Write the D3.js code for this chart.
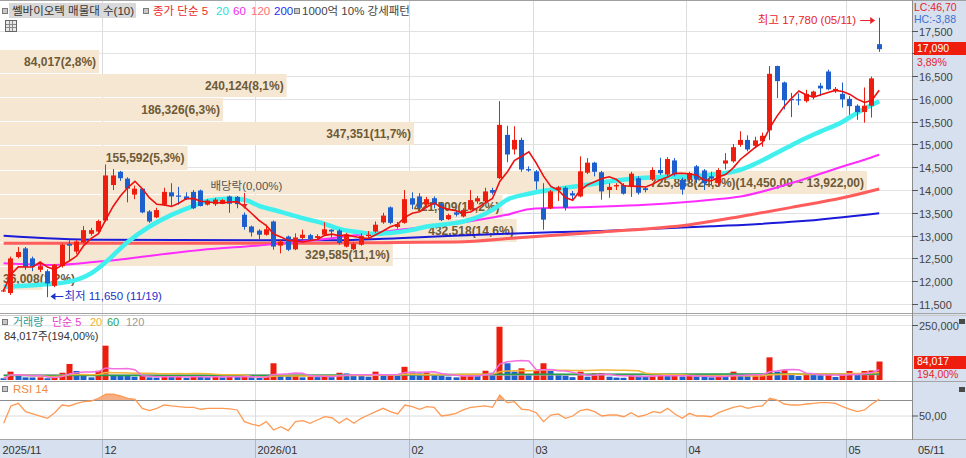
<!DOCTYPE html>
<html>
<head>
<meta charset="utf-8">
<script src="https://cdn.jsdelivr.net/npm/d3@7/dist/d3.min.js"></script>
<style>
body { margin: 0; background: #fff; }
svg { display: block; }
</style>
</head>
<body>
<script>
// trading days on the chart (2025/11/11 .. 2026/05/11)
var dates = [
  "11/11","11/12","11/13","11/14","11/17","11/18","11/19","11/20","11/21","11/24","11/25","11/26","11/27","11/28",
  "12/01","12/02","12/03","12/04","12/05","12/08","12/09","12/10","12/11","12/12","12/15","12/16","12/17","12/18","12/19","12/22","12/23","12/24","12/26","12/29","12/30",
  "01/02","01/05","01/06","01/07","01/08","01/09","01/12","01/13","01/14","01/15","01/16","01/19","01/20","01/21","01/22","01/23","01/26","01/27","01/28","01/29","01/30",
  "02/02","02/03","02/04","02/05","02/06","02/09","02/10","02/11","02/12","02/13","02/19","02/20","02/23","02/24","02/25","02/26","02/27",
  "03/03","03/04","03/05","03/06","03/09","03/10","03/11","03/12","03/13","03/16","03/17","03/18","03/19","03/20","03/23","03/24","03/25","03/26","03/27","03/30","03/31",
  "04/01","04/02","04/03","04/06","04/07","04/08","04/09","04/10","04/13","04/14","04/15","04/16","04/17","04/20","04/21","04/22","04/23","04/24","04/27","04/28","04/29","04/30",
  "05/04","05/06","05/07","05/08","05/11"
];
var monthLabels = ["2025/11", "12", "2026/01", "02", "03", "04", "05"];
var monthFirstDay = ["11/11", "12/01", "01/02", "02/02", "03/03", "04/01", "05/04"];

var openP = [
  11780,11740,12530,12720,12500,12250,12220,11900,12330,12820,
  12650,12850,13040,13090,13330,14110,14400,14250,13900,14030,
  13530,13400,13680,13950,13880,13860,13960,13990,13680,13690,
  13700,13860,13850,13460,13200,13110,13020,13310,12780,12980,
  12700,12950,13010,12950,13020,13130,13110,12760,12700,12800,
  12990,13090,13290,13620,13190,13280,13820,13860,13680,13820,
  13710,13360,13510,13420,13570,13750,13750,14000,14260,15210,
  14890,15100,14460,14410,13600,13600,14000,14050,13930,13860,
  14380,14600,14390,14000,14080,14110,14080,14260,14040,14230,
  14440,14340,14650,14220,14230,14520,14430,14300,14150,14580,
  14630,14990,15100,14970,15070,15310,16720,16360,16000,15990,
  15950,16050,16290,16600,16170,16110,16000,15850,15710,15850,
  17200
];
var highP = [
  11830,12540,12750,12750,12540,12380,12260,12380,12820,12900,
  12900,13210,13170,13350,14560,14460,14420,14280,14100,14040,
  13560,13610,14050,14150,14070,13950,14000,14010,13800,13830,
  13800,13880,13870,13510,13220,13140,13240,13330,12900,13000,
  13050,13130,13040,13030,13290,13140,13140,13060,12850,13050,
  13100,13310,13500,13640,13300,14000,13950,13930,13850,13860,
  13720,13480,13560,13600,14000,13870,14050,14050,15950,15410,
  15400,15150,14520,14440,14150,14000,14090,14080,13980,14740,
  14700,14620,14420,14150,14150,14150,14400,14300,14070,14500,
  14710,14720,14700,14270,14400,14550,14460,14400,14480,14810,
  15010,15290,15200,15170,15260,16720,16730,16380,16130,16120,
  16200,16180,16350,16640,16260,16360,16060,15880,16250,16490,
  17780
];
var lowP = [
  11760,11700,12500,12250,12220,12200,11650,11870,12300,12450,
  12600,12830,13000,13050,13300,14000,14200,13730,13800,13490,
  13280,13380,13650,13650,13680,13780,13580,13640,13660,13650,
  13690,13500,13600,13130,12980,12900,13000,12690,12610,12660,
  12680,12920,12900,12900,13000,12960,12800,12740,12680,12780,
  12950,13060,13260,13250,13150,13260,13580,13530,13640,13600,
  13320,13340,13420,13400,13550,13700,13720,13900,14240,14610,
  14780,14400,14400,14010,13130,13580,13760,13550,13800,13840,
  14350,14300,13790,13830,14000,13900,13850,13900,13950,14200,
  14330,14300,14300,13900,14150,14150,14000,14100,14100,14450,
  14600,14950,14850,14920,14950,15100,16020,15770,15600,15860,
  15920,15990,16060,16190,16130,15810,15650,15540,15480,15590,
  17030
];
var closeP = [
  11800,12500,12640,12310,12320,12330,11950,12360,12800,12780,
  12870,13120,13120,13320,14320,14320,14260,14030,14030,13510,
  13310,13560,13960,13860,13860,13800,13600,13650,13770,13790,
  13780,13700,13690,13190,13070,13020,13140,12760,12870,12690,
  12960,13020,12920,12990,13140,13090,12840,13020,12820,12990,
  13020,13240,13440,13280,13250,13800,13680,13610,13800,13680,
  13340,13450,13460,13560,13780,13820,13970,13940,15430,14780,
  15100,14450,14430,14190,13350,13970,14060,13610,13880,14410,
  14600,14400,13970,14070,14110,13920,14360,13940,14000,14440,
  14370,14680,14340,14010,14370,14230,14150,14250,14440,14650,
  14940,15100,14890,15090,15190,16550,16390,15970,15970,15980,
  16110,16160,16230,16210,16220,15990,15840,15710,15850,16450,
  17090
];
var volume = [
  8000,38000,27000,12000,11500,12000,8000,12000,33000,73000,
  41000,24000,12000,42000,156000,23000,22000,18000,15000,18000,
  12000,11000,19000,14000,16000,10000,17000,15000,13000,17000,
  12000,19000,14000,16000,12000,9000,14000,76000,22000,21000,
  24000,12000,15000,13000,19000,14000,33000,30000,22000,18000,
  15000,38000,24000,26000,20000,60000,38000,30000,34000,26000,
  20000,15000,12000,18000,26000,20000,42000,33000,242000,76000,
  38000,53000,23000,45000,76000,41000,23000,20000,13000,38000,
  15000,30000,32000,15000,11000,10000,22000,20000,14000,20000,
  21000,20000,21000,16000,19000,17000,15000,12000,18000,17000,
  38000,20000,19000,23000,24000,103000,38000,44000,30000,18000,
  26000,24000,22000,25000,14000,24000,41000,23000,41000,43307,
  84017
];
var rsi14 = [
  40.3,62.4,65.8,55.1,52.2,49.6,46.7,53.8,63.6,62.4,
  65.8,67.8,68.7,72.2,77.3,77.3,75.1,72.2,70.9,59.4,
  56.4,59.4,63.6,62.4,61.5,60.7,60.7,58.2,59.4,59.4,
  59.4,58.8,57.3,42.4,39.4,36.9,42.4,31.8,36.0,30.9,
  42.4,43.6,40.3,44.5,48.7,47.4,40.3,46.7,40.3,46.7,
  50.9,55.1,59.4,55.1,52.2,63.6,61.5,58.2,61.5,60.7,
  49.6,50.9,53.0,57.3,60.7,61.5,62.4,60.7,76.4,66.6,
  67.8,58.2,57.3,53.8,42.4,50.9,52.2,46.7,49.6,56.4,
  58.2,55.1,49.6,50.9,50.9,48.7,53.8,48.7,50.9,55.1,
  53.8,59.4,52.2,46.7,53.0,49.6,49.6,48.7,53.8,57.3,
  60.7,62.4,59.4,61.5,62.4,72.2,70.0,64.9,63.6,63.6,
  64.9,65.8,66.6,66.6,65.8,61.5,58.2,55.1,57.3,64.9,
  70.9
];

// longer moving averages: [day index, price]
var ma20Points = [[0,11880],[5,11920],[9,11990],[12,12175],[14,12420],[17,12860],[20,13200],[23,13456],[26,13650],[28,13764],[31,13808],[33,13786],[35,13654],[38,13522],[41,13383],[44,13260],[46,13148],[49,13067],[51,13038],[53,13060],[56,13126],[58,13199],[61,13258],[63,13310],[67,13566],[69,13786],[72,13918],[75,14005],[77,14049],[80,14115],[83,14188],[86,14247],[88,14270],[91,14290],[94,14298],[97,14335],[101,14445],[103,14577],[106,14819],[109,15067],[112,15287],[115,15500],[117,15698],[120,15950]];
var ma60Points = [[0,12394],[7,12357],[13,12430],[27,12687],[36,12797],[45,12944],[54,13126],[61,13250],[67,13400],[69,13456],[72,13581],[79,13625],[88,13676],[97,13786],[101,13858],[108,14153],[115,14518],[118,14665],[120,14775]];
var ma120Points = [[0,12830],[41,12830],[54,12850],[62,12860],[71,12960],[82,13080],[94,13240],[101,13420],[108,13620],[115,13830],[120,14025]];
var ma200Points = [[0,12995],[13,12907],[45,12896],[54,12944],[68,13038],[82,13104],[97,13203],[109,13313],[120,13493]];
var volMa60Points = [[0,20000],[40,21000],[70,26000],[120,27000]];
var volMa120Points = [[0,23000],[60,23000],[120,25000]];

// volume profile (매물대), 10 bands
var profileHigh = [17090,16562,16034,15506,14978,14450,13922,13394,12866,12338];
var profileLow  = [16562,16034,15506,14978,14450,13922,13394,12866,12338,11810];
var profileVol  = [84017,240124,186326,347351,155592,725888,421509,432518,329585,36008];
var profilePct  = [2.8,8.1,6.3,11.7,5.3,24.5,14.2,14.6,11.1,1.2];

var priceTicks = d3.range(11500, 17501, 500);

function main(){
    var W = 966, H = 458, plotRight = 912;
    var baseFont = "'Liberation Sans','Noto Sans CJK KR',sans-serif";
    var RED = "#ee1d0d", BLUE = "#1d5fcc";

    var svg = d3.select("body").append("svg")
        .attr("width", W)
        .attr("height", H)
        .style("font-family", baseFont)
        .style("font-size", "11px");

    var n = dates.length;
    var last = n - 1;
    var x = d3.scaleBand().domain(d3.range(n + 4)).range([0, plotRight])
        .paddingInner(0.3).paddingOuter(0.15);
    var cx = function(i){ return x(i) + x.bandwidth() / 2; };
    var bx = function(i){ return Math.round(cx(i) - 2.5); };
    var y = d3.scaleLinear().domain([11500, 17500]).range([304, 30.5]);
    var yVol = d3.scaleLinear().domain([0, 250000]).range([380, 325]);
    var yRsi = d3.scaleLinear().domain([50, 70]).range([415.7, 400]);
    var wProfile = d3.scaleLinear().domain([0, 24.5]).range([0, 867]);
    var fmt = d3.format(",");
    var comma = function(v, d){ return v.toFixed(d).replace(".", ","); };

    var days = d3.range(n);
    var candleColor = function(i){ return closeP[i] >= openP[i] ? RED : BLUE; };

    // backgrounds
    svg.append("rect").attr("x", 0).attr("y", 0).attr("width", W).attr("height", H).attr("fill", "#fff");
    svg.append("rect").attr("x", plotRight).attr("y", 0).attr("width", W - plotRight).attr("height", H).attr("fill", "#d7e0ee");
    svg.append("rect").attr("x", 0).attr("y", 440).attr("width", W).attr("height", 18).attr("fill", "#d7e0ee");

    // price grid
    svg.append("g").selectAll("line").data(priceTicks).enter().append("line")
        .attr("x1", 0).attr("x2", plotRight)
        .attr("y1", d => Math.round(y(d)) + 0.5).attr("y2", d => Math.round(y(d)) + 0.5)
        .attr("stroke", "#e2e2e2");

    // month separators
    var monthIdx = monthFirstDay.map(d => dates.indexOf(d));
    var monthX = monthIdx.map(i => Math.round(cx(i) - x.step() / 2) + 0.5);
    svg.append("g").selectAll("line").data(monthX.slice(1)).enter().append("line")
        .attr("x1", d => d).attr("x2", d => d).attr("y1", 0).attr("y2", 440)
        .attr("stroke", "#dcdcdc");
    svg.append("g").selectAll("line").data(monthX.slice(1)).enter().append("line")
        .attr("x1", d => d).attr("x2", d => d).attr("y1", 440).attr("y2", H)
        .attr("stroke", "#aeb8c8");

    // volume profile bars
    var prof = svg.append("g");
    prof.selectAll("rect").data(d3.range(profileVol.length)).enter().append("rect")
        .attr("x", 0)
        .attr("y", k => Math.round(y(profileHigh[k])) + 1)
        .attr("width", k => wProfile(profilePct[k]))
        .attr("height", k => Math.round(y(profileLow[k])) - Math.round(y(profileHigh[k])) - 1)
        .attr("fill", "#f6e7d3");
    prof.selectAll("text").data(d3.range(profileVol.length)).enter().append("text")
        .attr("x", k => k == 9 ? 3 : wProfile(profilePct[k]) - 3)
        .attr("y", k => (y(profileHigh[k]) + y(profileLow[k])) / 2 + 1)
        .attr("text-anchor", k => k == 9 ? "start" : "end")
        .attr("dominant-baseline", "central")
        .style("font-size", "12px")
        .style("font-weight", "bold")
        .attr("fill", "#6d5a36")
        .text(function(k){
            var s = fmt(profileVol[k]) + "(" + comma(profilePct[k], 1) + "%)";
            if (k == 5) s += "(" + comma(profileHigh[k], 2).replace(/^(\d+)(\d{3})/, "$1,$2") +
                " ~ " + comma(profileLow[k], 2).replace(/^(\d+)(\d{3})/, "$1,$2") + ")";
            return s;
        });

    // long moving averages
    var maLine = d3.line().x(d => cx(d[0])).y(d => y(d[1])).curve(d3.curveMonotoneX);
    svg.append("path").attr("d", maLine(ma200Points)).attr("fill", "none").attr("stroke", "#1a1ad8").attr("stroke-width", 2);
    svg.append("path").attr("d", maLine(ma120Points)).attr("fill", "none").attr("stroke", "#ff5c5c").attr("stroke-width", 3);
    svg.append("path").attr("d", maLine(ma60Points)).attr("fill", "none").attr("stroke", "#ff2cff").attr("stroke-width", 2);
    svg.append("path").attr("d", maLine(ma20Points)).attr("fill", "none").attr("stroke", "#3ff0ee").attr("stroke-width", 4.5);

    // candles
    var cg = svg.append("g");
    cg.selectAll("line").data(days).enter().append("line")
        .attr("x1", i => bx(i) + 2.5).attr("x2", i => bx(i) + 2.5)
        .attr("y1", i => y(highP[i])).attr("y2", i => y(lowP[i]))
        .attr("stroke", candleColor).attr("stroke-width", 1);
    cg.selectAll("rect").data(days).enter().append("rect")
        .attr("x", bx)
        .attr("y", i => y(Math.max(openP[i], closeP[i])))
        .attr("width", 5)
        .attr("height", i => Math.max(1.2, Math.abs(y(openP[i]) - y(closeP[i]))))
        .attr("fill", candleColor);

    // 5 day average
    var ma5 = days.map(function(i){
        var w = closeP.slice(Math.max(0, i - 4), i + 1);
        return [i, d3.mean(w)];
    });
    svg.append("path").attr("d", d3.line().x(d => cx(d[0])).y(d => y(d[1]))(ma5))
        .attr("fill", "none").attr("stroke", "#ee1010").attr("stroke-width", 1.6);

    // annotations
    var iHigh = d3.maxIndex(highP), iLow = d3.minIndex(lowP);
    var ann = svg.append("g").style("font-size", "11.5px");
    ann.append("text").attr("x", cx(iHigh) - 23).attr("y", 20).attr("text-anchor", "end")
        .attr("dominant-baseline", "central").attr("fill", "#e8242a")
        .text("최고 " + fmt(highP[iHigh]) + " (" + dates[iHigh] + ")");
    ann.append("line").attr("x1", cx(iHigh) - 19).attr("x2", cx(iHigh) - 7).attr("y1", 20.5).attr("y2", 20.5)
        .attr("stroke", "#e8242a");
    ann.append("path").attr("d", "M" + (cx(iHigh) - 4) + ",20.5 l-5,-3.5 l0,7 z").attr("fill", "#e8242a");
    ann.append("line").attr("x1", cx(iLow) + 6).attr("x2", cx(iLow) + 16).attr("y1", 296.5).attr("y2", 296.5)
        .attr("stroke", "#1a32c8");
    ann.append("path").attr("d", "M" + (cx(iLow) + 3) + ",296.5 l5,-3.5 l0,7 z").attr("fill", "#1a32c8");
    ann.append("text").attr("x", cx(iLow) + 17).attr("y", 296).attr("dominant-baseline", "central")
        .attr("fill", "#1a32c8")
        .text("최저 " + fmt(lowP[iLow]) + " (" + dates[iLow] + ")");

    // ex-dividend marker
    var iDiv = dates.indexOf("12/29");
    ann.append("text").attr("x", cx(iDiv) - 34).attr("y", 186).attr("dominant-baseline", "central")
        .attr("fill", "#555").text("배당락(0,00%)");
    ann.append("line").attr("x1", bx(iDiv) + 2.5).attr("x2", bx(iDiv) + 2.5).attr("y1", 193).attr("y2", 205)
        .attr("stroke", "#e8242a");
    ann.append("path").attr("d", "M" + (bx(iDiv) - 0.5) + ",204 l6,0 l-3,5 z").attr("fill", "#e8242a");

    // ---- volume panel ----
    var volColor = function(i){ return i > 0 && volume[i] > volume[i - 1] ? RED : BLUE; };
    svg.append("line").attr("x1", 0).attr("x2", plotRight).attr("y1", 325.5).attr("y2", 325.5).attr("stroke", "#e6e6e6");
    svg.append("g").selectAll("rect").data(days).enter().append("rect")
        .attr("x", i => bx(i) - 0.5)
        .attr("y", i => yVol(volume[i]))
        .attr("width", 6)
        .attr("height", i => 380 - yVol(volume[i]))
        .attr("fill", volColor);
    var volAvg = function(len){
        return days.map(function(i){ return [i, d3.mean(volume.slice(Math.max(0, i - len + 1), i + 1))]; });
    };
    var vLine = d3.line().x(d => cx(d[0])).y(d => yVol(d[1]));
    var vCurve = d3.line().x(d => cx(d[0])).y(d => yVol(d[1])).curve(d3.curveMonotoneX);
    svg.append("path").attr("d", vCurve(volMa120Points)).attr("fill", "none").attr("stroke", "#a8a8a8").attr("stroke-width", 1.5);
    svg.append("path").attr("d", vCurve(volMa60Points)).attr("fill", "none").attr("stroke", "#27a04a").attr("stroke-width", 1.5);
    svg.append("path").attr("d", vLine(volAvg(20))).attr("fill", "none").attr("stroke", "#f2b536").attr("stroke-width", 1.5);
    svg.append("path").attr("d", vLine(volAvg(5))).attr("fill", "none").attr("stroke", "#f36ee0").attr("stroke-width", 1.5);

    // ---- RSI panel ----
    svg.append("line").attr("x1", 0).attr("x2", plotRight).attr("y1", 416).attr("y2", 416).attr("stroke", "#dcdcdc");
    svg.append("clipPath").attr("id", "over70").append("rect")
        .attr("x", 0).attr("y", 383).attr("width", plotRight).attr("height", yRsi(70) - 383);
    svg.append("path")
        .attr("d", d3.area().x(i => cx(i)).y0(yRsi(70)).y1(i => yRsi(rsi14[i]))(days))
        .attr("clip-path", "url(#over70)")
        .attr("fill", "#f5a272").attr("opacity", 0.85);
    svg.append("line").attr("x1", 0).attr("x2", plotRight).attr("y1", 400.5).attr("y2", 400.5).attr("stroke", "#8c8c8c");
    svg.append("path").attr("d", d3.line().x(i => cx(i)).y(i => yRsi(rsi14[i]))(days))
        .attr("fill", "none").attr("stroke", "#ff9a55").attr("stroke-width", 1.3);

    // panel borders
    svg.append("line").attr("x1", 0).attr("x2", W).attr("y1", 0.5).attr("y2", 0.5).attr("stroke", "#a0a0a0");
    [[313.5, "#a4a4a4"], [315.5, "#c8c8c8"], [381.5, "#a4a4a4"], [439.5, "#a4a4a4"]].forEach(function(s){
        svg.append("line").attr("x1", 0).attr("x2", W).attr("y1", s[0]).attr("y2", s[0]).attr("stroke", s[1]);
    });
    svg.append("line").attr("x1", plotRight + 0.5).attr("x2", plotRight + 0.5).attr("y1", 0).attr("y2", 440)
        .attr("stroke", "#8c8c8c");

    // ---- right axis ----
    var ax = svg.append("g").attr("fill", "#444");
    var boxY = y(closeP[last]);
    // the tick label under the current price box is covered, as in the original
    var shownTicks = priceTicks.filter(d => Math.abs(y(d) - boxY) > 14);
    ax.selectAll("line.pt").data(priceTicks).enter().append("line")
        .attr("x1", plotRight).attr("x2", plotRight + 6)
        .attr("y1", d => Math.round(y(d)) + 0.5).attr("y2", d => Math.round(y(d)) + 0.5)
        .attr("stroke", "#555");
    ax.selectAll("text.pt").data(shownTicks).enter().append("text")
        .attr("x", plotRight + 7).attr("y", d => y(d) + 1).attr("dominant-baseline", "central")
        .text(d => fmt(d));
    ax.append("text").attr("x", plotRight + 2).attr("y", 6.5).attr("dominant-baseline", "central")
        .attr("fill", "#e8242a").style("font-size", "10.5px").text("LC:46,70");
    ax.append("text").attr("x", plotRight + 2).attr("y", 18.5).attr("dominant-baseline", "central")
        .attr("fill", "#3a6fd0").style("font-size", "10.5px").text("HC:-3,88");
    ax.append("rect").attr("x", plotRight + 2).attr("y", Math.round(boxY) - 7)
        .attr("width", W - plotRight - 2).attr("height", 13).attr("fill", "#ee1d0d");
    ax.append("text").attr("x", plotRight + 5).attr("y", boxY - 1).attr("dominant-baseline", "central")
        .style("font-size", "10.5px").attr("fill", "#fff").text(fmt(closeP[last]));
    ax.append("text").attr("x", plotRight + 5).attr("y", boxY + 12.5).attr("dominant-baseline", "central")
        .style("font-size", "10.5px").attr("fill", "#e8242a")
        .text(comma((closeP[last] / closeP[last - 1] - 1) * 100, 2) + "%");

    ax.append("line").attr("x1", plotRight).attr("x2", plotRight + 6).attr("y1", 325.5).attr("y2", 325.5).attr("stroke", "#555");
    ax.append("text").attr("x", plotRight + 7).attr("y", 325.5).attr("dominant-baseline", "central").text(fmt(250000));
    var vBoxY = yVol(volume[last]);
    ax.append("rect").attr("x", plotRight + 2).attr("y", Math.round(vBoxY) - 6)
        .attr("width", W - plotRight - 2).attr("height", 13).attr("fill", "#ee1d0d");
    ax.append("text").attr("x", plotRight + 5).attr("y", vBoxY - 0.5).attr("dominant-baseline", "central")
        .style("font-size", "10.5px").attr("fill", "#fff").text(fmt(volume[last]));
    ax.append("text").attr("x", plotRight + 5).attr("y", vBoxY + 12.5).attr("dominant-baseline", "central")
        .style("font-size", "10.5px").attr("fill", "#e8242a").text(comma(volume[last] / volume[last - 1] * 100, 2) + "%");
    ax.append("line").attr("x1", plotRight).attr("x2", plotRight + 6).attr("y1", 416).attr("y2", 416).attr("stroke", "#555");
    ax.append("text").attr("x", plotRight + 7).attr("y", 416).attr("dominant-baseline", "central").text(comma(50, 2));
    [319, 387].forEach(function(yy){
        ax.append("rect").attr("x", 959).attr("y", yy).attr("width", 6).attr("height", 5).attr("fill", "#4a4a4a");
    });

    // ---- date axis ----
    svg.append("g").selectAll("text").data(monthLabels).enter().append("text")
        .attr("x", (d, k) => monthX[k] + 2).attr("y", 450).attr("dominant-baseline", "central")
        .attr("fill", "#333").text(d => d);
    svg.append("text").attr("x", plotRight + 6).attr("y", 450).attr("dominant-baseline", "central")
        .attr("fill", "#333").text(dates[last]);

    // ---- panel titles ----
    var icon = function(xx, yy){
        svg.append("rect").attr("x", xx + 0.5).attr("y", yy + 0.5).attr("width", 5).attr("height", 5)
            .attr("fill", "#c8c8c8").attr("stroke", "#7a7a7a");
    };
    var title = function(xx, yy, str, color, size){
        svg.append("text").attr("x", xx).attr("y", yy).attr("dominant-baseline", "central")
            .style("font-size", (size || 11.5) + "px").attr("fill", color).text(str);
    };
    icon(2, 8);
    svg.append("rect").attr("x", 9).attr("y", 3).attr("width", 127).attr("height", 15).attr("fill", "#d9d9d9");
    title(12, 11, "쎌바이오텍 매물대 수(10)", "#333");
    icon(143, 8);
    title(153, 11, "종가 단순 5", "#ee2a2a");
    title(216, 11, "20", "#28e0e0");
    title(233, 11, "60", "#f028f0");
    title(251, 11, "120", "#ff7070");
    title(274, 11, "200", "#2a2af0");
    icon(294, 8);
    title(302, 11, "1000억 10% 강세패턴", "#444");
    // table icon
    svg.append("rect").attr("x", 5.5).attr("y", 20.5).attr("width", 11).attr("height", 11)
        .attr("fill", "#e8e8e8").attr("stroke", "#666");
    [9.5, 12.5].forEach(function(v){
        svg.append("line").attr("x1", v).attr("x2", v).attr("y1", 21).attr("y2", 31).attr("stroke", "#888");
        svg.append("line").attr("x1", 6).attr("x2", 16).attr("y1", v + 15).attr("y2", v + 15).attr("stroke", "#888");
    });

    icon(2, 319);
    title(13, 322, "거래량", "#2a9c9c", 11);
    title(52, 322, "단순 5", "#e840c8", 11);
    title(90, 322, "20", "#f0b030", 11);
    title(107, 322, "60", "#2aa050", 11);
    title(126, 322, "120", "#9a9a9a", 11);
    svg.append("text").attr("x", 4).attr("y", 335.5).attr("dominant-baseline", "central")
        .style("font-size", "11px").attr("fill", "#333")
        .text(fmt(volume[last]) + "주(" + comma(volume[last] / volume[last - 1] * 100, 2) + "%)");

    icon(2, 386);
    title(13, 389, "RSI 14", "#f08a40");
}
main();
</script>
</body>
</html>
